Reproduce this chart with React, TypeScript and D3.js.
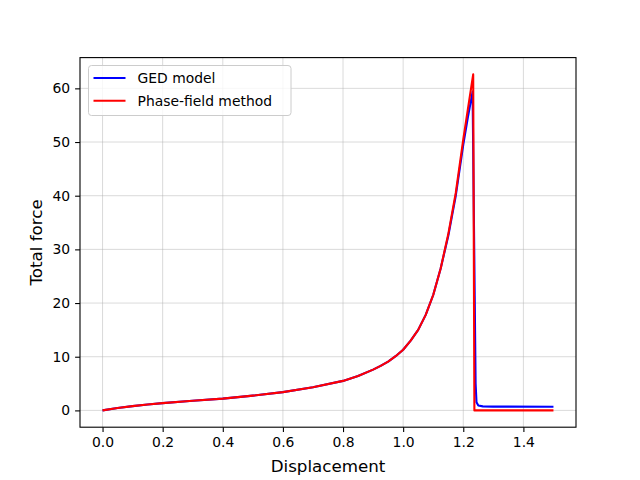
import React, { useEffect, useRef } from 'react';
import * as d3 from 'd3';

// GED model (blue)
const gedDisp = [0, 0.05, 0.1, 0.15, 0.2, 0.3, 0.4, 0.5, 0.6, 0.7, 0.8, 0.85, 0.9, 0.925, 0.95, 0.975, 1.0, 1.025, 1.05, 1.075, 1.1, 1.125, 1.15, 1.175, 1.2, 1.215, 1.231, 1.241, 1.244, 1.25, 1.265, 1.3, 1.5];
const gedForce = [0, 0.45, 0.8, 1.1, 1.35, 1.8, 2.2, 2.75, 3.4, 4.3, 5.5, 6.4, 7.6, 8.3, 9.1, 10.1, 11.3, 13.0, 15.0, 17.8, 21.5, 26.5, 32.5, 40, 49.5, 54.5, 59.4, 5.0, 1.5, 0.9, 0.75, 0.7, 0.68];

// Phase-field method (red)
const pfDisp = [0, 0.05, 0.1, 0.15, 0.2, 0.3, 0.4, 0.5, 0.6, 0.7, 0.8, 0.85, 0.9, 0.925, 0.95, 0.975, 1.0, 1.025, 1.05, 1.075, 1.1, 1.125, 1.15, 1.175, 1.2, 1.215, 1.233, 1.237, 1.5];
const pfForce = [0, 0.45, 0.8, 1.1, 1.35, 1.8, 2.2, 2.75, 3.4, 4.3, 5.5, 6.4, 7.6, 8.3, 9.1, 10.1, 11.3, 13.0, 15.0, 17.8, 21.5, 26.5, 32.8, 40.5, 50.5, 56, 62.6, 0, 0];

const xTicks = [0, 0.2, 0.4, 0.6, 0.8, 1.0, 1.2, 1.4];
const yTicks = [0, 10, 20, 30, 40, 50, 60];
const seriesNames = ['GED model', 'Phase-field method'];
const seriesColors = ['blue', 'red'];

const App = () => {
  const ref = useRef<SVGSVGElement>(null);

  useEffect(() => {
    const width = 640;
    const height = 480;
    const margin = { top: 57.6, right: 64, bottom: 52.8, left: 80 };
    const font = 'DejaVu Sans, sans-serif';

    const svg = d3.select(ref.current);
    svg.selectAll('*').remove();

    const x = d3.scaleLinear().domain([-0.075, 1.575]).range([margin.left, width - margin.right]);
    const y = d3.scaleLinear().domain([-3.13, 65.73]).range([height - margin.bottom, margin.top]);

    svg.append('rect').attr('width', width).attr('height', height).attr('fill', 'white');

    // grid
    const grid = svg.append('g').attr('stroke', '#b0b0b0').attr('stroke-opacity', 0.6).attr('stroke-width', 0.8);
    xTicks.forEach((t) => {
      grid.append('line').attr('x1', x(t)).attr('x2', x(t)).attr('y1', margin.top).attr('y2', height - margin.bottom);
    });
    yTicks.forEach((t) => {
      grid.append('line').attr('y1', y(t)).attr('y2', y(t)).attr('x1', margin.left).attr('x2', width - margin.right);
    });

    const line = d3
      .line<[number, number]>()
      .x((d) => x(d[0]))
      .y((d) => y(d[1]));

    const series: [number, number][][] = [
      gedDisp.map((d, i) => [d, gedForce[i]]),
      pfDisp.map((d, i) => [d, pfForce[i]]),
    ];

    series.forEach((s, i) => {
      svg
        .append('path')
        .datum(s)
        .attr('fill', 'none')
        .attr('stroke', seriesColors[i])
        .attr('stroke-width', 2.1)
        .attr('stroke-linejoin', 'round')
        .attr('d', line);
    });

    // axes
    const xAxis = d3.axisBottom(x).tickValues(xTicks).tickFormat(d3.format('.1f')).tickSizeOuter(0).tickSize(4.9).tickPadding(4.9);
    const yAxis = d3.axisLeft(y).tickValues(yTicks).tickFormat(d3.format('d')).tickSizeOuter(0).tickSize(4.9).tickPadding(4.9);

    const gx = svg.append('g').attr('transform', `translate(0,${height - margin.bottom})`).call(xAxis);
    const gy = svg.append('g').attr('transform', `translate(${margin.left},0)`).call(yAxis);
    [gx, gy].forEach((g) => {
      g.select('.domain').remove();
      g.selectAll('.tick line').attr('stroke', 'black').attr('stroke-width', 1.1);
      g.selectAll('.tick text').attr('font-family', font).attr('font-size', 13.9).attr('fill', 'black');
    });

    svg
      .append('rect')
      .attr('x', margin.left)
      .attr('y', margin.top)
      .attr('width', width - margin.left - margin.right)
      .attr('height', height - margin.top - margin.bottom)
      .attr('fill', 'none')
      .attr('stroke', 'black')
      .attr('stroke-width', 1.1);

    svg
      .append('text')
      .attr('x', (margin.left + width - margin.right) / 2)
      .attr('y', 472)
      .attr('text-anchor', 'middle')
      .attr('font-family', font)
      .attr('font-size', 16.7)
      .text('Displacement');

    svg
      .append('text')
      .attr('transform', `translate(42,${(margin.top + height - margin.bottom) / 2}) rotate(-90)`)
      .attr('text-anchor', 'middle')
      .attr('font-family', font)
      .attr('font-size', 16.7)
      .text('Total force');

    // legend
    const lg = svg.append('g').attr('transform', 'translate(88.5,65.5)');
    lg.append('rect')
      .attr('width', 202.5)
      .attr('height', 50)
      .attr('rx', 3)
      .attr('fill', 'white')
      .attr('fill-opacity', 0.8)
      .attr('stroke', '#cccccc')
      .attr('stroke-width', 1);
    seriesNames.forEach((name, i) => {
      const cy = 12.5 + i * 22.7;
      lg.append('line').attr('x1', 5).attr('x2', 37).attr('y1', cy).attr('y2', cy).attr('stroke', seriesColors[i]).attr('stroke-width', 2.1);
      lg.append('text')
        .attr('x', 49)
        .attr('y', cy + 5)
        .attr('font-family', font)
        .attr('font-size', 13.9)
        .text(name);
    });
  }, []);

  return <svg ref={ref} width={640} height={480} style={{ position: 'absolute', left: 0, top: 0 }} />;
};

export default App;
